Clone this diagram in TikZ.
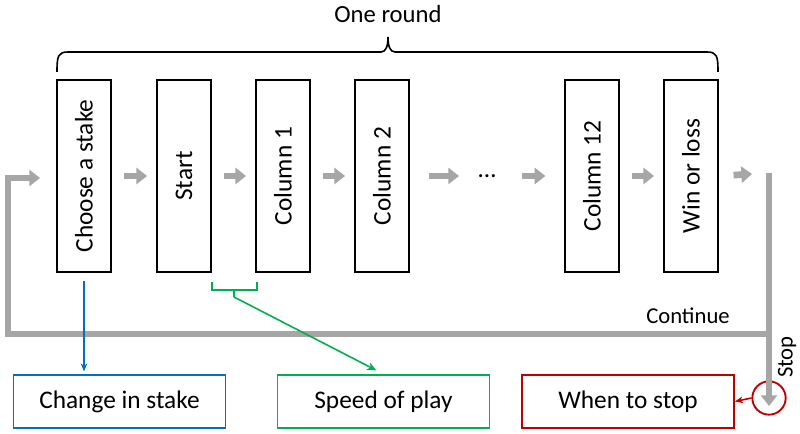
\documentclass[tikz,border=0pt]{standalone}
\usepackage{fontspec}
\setmainfont{Carlito}
\usetikzlibrary{arrows.meta}
\definecolor{flowgray}{RGB}{166,166,166}
\definecolor{stakeblue}{RGB}{0,112,192}
\definecolor{speedgreen}{RGB}{0,176,80}
\definecolor{stopred}{RGB}{192,0,0}
\tikzset{
  stagebox/.style={draw, line width=1.4pt, rotate=90, minimum width=144pt,
    minimum height=40.5pt, inner sep=0pt, font=\fontsize{19}{22}\selectfont},
  factorbox/.style={draw, line width=1.4pt, minimum width=159pt,
    minimum height=39.75pt, font=\fontsize{19}{22}\selectfont},
  flowarrow/.style={draw=flowgray, line width=5pt,
    -{Triangle[length=8pt,width=12pt]}},
  loopline/.style={draw=flowgray, line width=4.8pt},
  label/.style={font=\fontsize{17}{20}\selectfont}
}
\begin{document}
\begin{tikzpicture}[x=0.75pt,y=-0.75pt]
      \useasboundingbox (0,0) rectangle (800,434);
      \node[stagebox] (choose) at (84,176) {Choose a stake};
      \node[stagebox] (start) at (184,176) {Start};
      \node[stagebox] (col1) at (283,176) {Column 1};
      \node[stagebox] (col2) at (382,176) {Column 2};
      \node[label, font=\fontsize{19}{22}\selectfont, inner sep=0pt] (dots) at (487,176) {\dots};
      \node[stagebox] (col12) at (592,176) {Column 12};
      \node[stagebox] (winloss) at (691,176) {Win or loss};
      \node[factorbox, draw=stakeblue] (stake) at (119.5,401.5) {Change in stake};
      \node[factorbox, draw=speedgreen] (speed) at (383.5,401.5) {Speed of play};
      \node[factorbox, draw=stopred] (when) at (628,401.5) {When to stop};
      \node[label, font=\fontsize{18.5}{22}\selectfont] (round) at (388,14) {One round};
      \node[label] (cont) at (688,316) {Continue};
      \node[label, rotate=90] (stoplbl) at (787,357) {Stop};
      \node[draw=stopred, line width=1.4pt, circle, minimum size=25pt,
        inner sep=0pt] (stopcirc) at (769,398) {};
      \coordinate (exit) at (769,173);
      \coordinate (junction) at (769,334);
      \coordinate (stopend) at (769,406);
      \coordinate (corner) at (8,334);
      \coordinate (entry) at (40,178);
      \coordinate (brL) at (212,282);
      \coordinate (brR) at (257,282);
      \coordinate (brtip) at (234,297);
      % flow of one round
      \begin{scope}[flowarrow]
        \draw[shorten <=9pt, shorten >=6.75pt] (choose.south) -- (start.north);
        \draw[shorten <=9pt, shorten >=6.75pt] (start.south) -- (col1.north);
        \draw[shorten <=9pt, shorten >=6.75pt] (col1.south) -- (col2.north);
        \draw[shorten <=14pt, shorten >=21pt] (col2.south) -- (dots.center);
        \draw[shorten <=26pt, shorten >=14pt] (dots.center) -- (col12.north);
        \draw[shorten <=9pt, shorten >=6.75pt] (col12.south) -- (winloss.north);
        \draw[shorten <=11pt, shorten >=12.75pt] (winloss.south) -- (exit);
      \end{scope}
      % continue or stop
      \draw[loopline] (exit) -- (junction);
      \draw[loopline, -{Triangle[length=8pt,width=12pt]}] (junction) -- (stopend);
      \draw[loopline, -{Triangle[length=8pt,width=12pt]}] (junction) -- (corner) |- (entry);
      % brace over the round
      \draw[line width=1.2pt] (57,72) .. controls (57,56) and (58,52) .. (68,52)
        -- (381,52) .. controls (386,52) and (388,46) .. (388,37)
        .. controls (388,46) and (390,52) .. (395,52) -- (707,52)
        .. controls (717,52) and (718,56) .. (718,72);
      % factors
      \draw[stakeblue, line width=1.2pt, -{Stealth[length=6pt,width=5pt]},
        shorten <=6pt, shorten >=2pt] (choose.west) -- (choose.west |- stake.north);
      \draw[speedgreen, line width=1.2pt] (brL) -- ++(0,8) -| (brR);
      \draw[speedgreen, line width=1.2pt] (brtip) -- ++(0,-7);
      \draw[speedgreen, line width=1.2pt, -{Stealth[length=7pt,width=6pt]},
        shorten >=6pt] (brtip) -- (speed.north);
      \draw[stopred, line width=1.2pt, -{Stealth[length=6pt,width=5pt]}]
        (stopcirc.west) -- (when.east);
    \end{tikzpicture}
\end{document}
